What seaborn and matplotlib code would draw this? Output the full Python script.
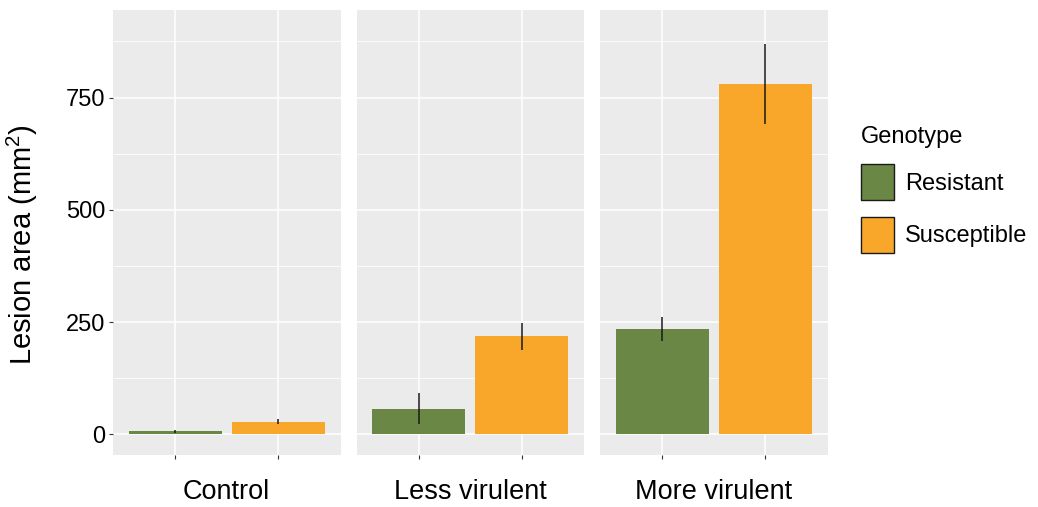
import matplotlib
matplotlib.use("Agg")
import matplotlib.pyplot as plt
from matplotlib.patches import Patch
from matplotlib.ticker import MultipleLocator
import seaborn as sns
import pandas as pd

# Mean lesion area and its error, per treatment and genotype
treatments = ["Control", "Less virulent", "More virulent"]
genotypes = ["Resistant", "Susceptible"]
resistant_mean = [7, 57, 235]
susceptible_mean = [28, 218, 781]
resistant_err = [3, 35, 27]
susceptible_err = [6, 31, 89]
y_ticks = [0, 250, 500, 750]

colors = {"Resistant": "#6B8745", "Susceptible": "#F9A72B"}

sns.set_theme(style="white")
plt.rcParams["font.family"] = ["Liberation Sans", "DejaVu Sans"]
plt.rcParams["mathtext.fontset"] = "custom"
plt.rcParams["mathtext.rm"] = "Liberation Sans"
plt.rcParams["mathtext.default"] = "regular"
plt.rcParams["text.color"] = "black"

W, H = 1038, 507
fig = plt.figure(figsize=(W / 100, H / 100), dpi=100)

panel_left = [113, 356.5, 600]
panel_w = 227.5
panel_top, panel_bottom = 10, 455

rows = []
for i, t in enumerate(treatments):
    rows.append((t, "Resistant", resistant_mean[i], resistant_err[i]))
    rows.append((t, "Susceptible", susceptible_mean[i], susceptible_err[i]))
df = pd.DataFrame(rows, columns=["treatment", "genotype", "area", "err"])

axes = []
for i, t in enumerate(treatments):
    ax = fig.add_axes([panel_left[i] / W, 1 - panel_bottom / H,
                       panel_w / W, (panel_bottom - panel_top) / H])
    sub = df[df["treatment"] == t]
    sns.barplot(data=sub, x="genotype", y="area", hue="genotype",
                order=genotypes, hue_order=genotypes, palette=colors,
                width=0.9, errorbar=None, legend=False, saturation=1,
                linewidth=0, edgecolor="none", ax=ax, zorder=2)
    ax.errorbar(range(len(genotypes)), sub["area"].to_numpy(),
                yerr=sub["err"].to_numpy(), fmt="none",
                ecolor="#1a1a1a", elinewidth=1.3, alpha=0.85,
                capsize=0, zorder=3)
    ax.set_facecolor("#EBEBEB")
    ax.set_xlim(-0.6, 1.6)
    ax.set_ylim(-46, 945)
    ax.set_yticks(y_ticks)
    ax.yaxis.set_minor_locator(MultipleLocator(125))
    ax.set_axisbelow(True)
    ax.grid(which="major", color="white", linewidth=1.1)
    ax.grid(which="minor", axis="y", color="white", linewidth=0.6)
    for s in ax.spines.values():
        s.set_visible(False)
    ax.set_xlabel("")
    ax.set_ylabel("")
    ax.set_xticklabels([])
    ax.tick_params(axis="x", which="major", bottom=True, length=2.6,
                   width=0.8, color="#333333")
    ax.tick_params(axis="y", which="minor", left=False)
    if i == 0:
        ax.tick_params(axis="y", which="major", left=True, length=2.6,
                       width=0.8, color="#333333", labelsize=17,
                       labelcolor="black", pad=3)
    else:
        ax.tick_params(axis="y", which="major", left=False, labelleft=False)
    ax.text(0.5, -0.083, t, transform=ax.transAxes, ha="center",
            va="center", fontsize=19.5, color="black")
    axes.append(ax)

fig.text(22 / W, 1 - 245 / H, r"Lesion area (mm$^{2}$)", rotation=90,
         ha="center", va="center", fontsize=21, color="black")

handles = [Patch(facecolor=colors[g], edgecolor="#1a1a1a", linewidth=1.0,
                 label=g) for g in genotypes]
leg = fig.legend(handles=handles, title="Genotype", loc="upper left",
                 bbox_to_anchor=(861 / W, 1 - 125.5 / H), frameon=False,
                 fontsize=17, title_fontsize=17, handlelength=1.4,
                 handleheight=1.97, labelspacing=0.7, handletextpad=0.47,
                 borderpad=0, borderaxespad=0, alignment="left",
                 labelcolor="black")
leg.get_title().set_color("black")

fig.savefig("out.png", dpi=100)
